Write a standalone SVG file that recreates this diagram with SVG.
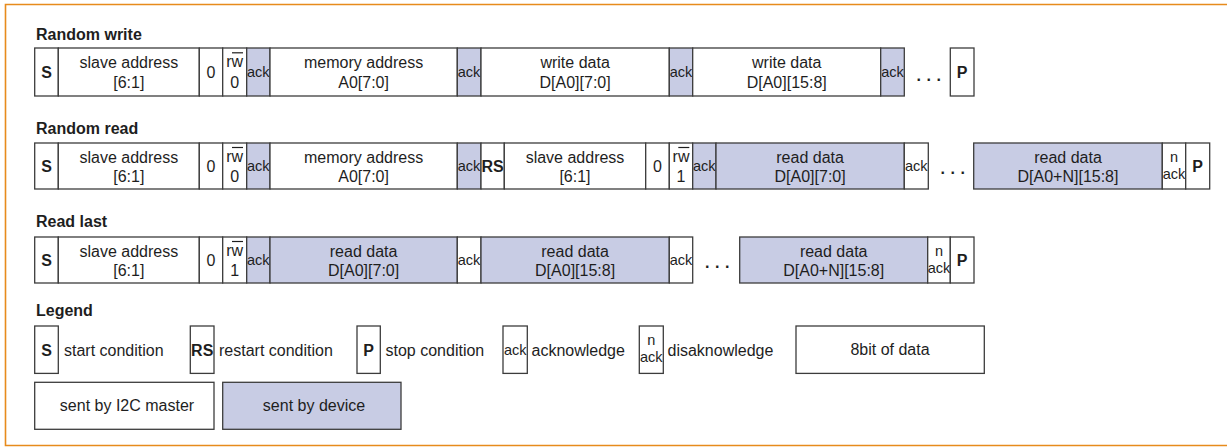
<svg xmlns="http://www.w3.org/2000/svg" width="1227" height="447" viewBox="0 0 1227 447">
  <style>
    .c { fill: #ffffff; stroke: #3c3c3c; stroke-width: 1.3; }
    .d { fill: #c8cce4; stroke: #3c3c3c; stroke-width: 1.3; }
    text { font-family: "Liberation Sans", Arial, sans-serif; fill: #1e1e1e; }
    .t { font-size: 16px; text-anchor: middle; }
    .b { font-size: 16px; font-weight: bold; text-anchor: middle; }
    .h { font-size: 16px; font-weight: bold; }
    .s { font-size: 14.5px; text-anchor: middle; }
    .l { font-size: 16px; }
    .dots { font-size: 16px; font-weight: bold; letter-spacing: 5.6px; }
    .ov { stroke: #1e1e1e; stroke-width: 1.2; }
  </style>
  <rect width="1227" height="447" fill="#ffffff"/>
  <!-- outer frame, open on the right -->
  <path d="M1227,4.5 H5.5 V445.5 H1227" fill="none" stroke="#e78b1c" stroke-width="1.6"/>

  <!-- Random write -->
  <g id="random-write">
    <text class="h" x="36" y="40">Random write</text>
    <g id="rw-s"><rect class="c" x="34.7" y="48" width="23.6" height="48"/><text class="b" x="46.5" y="78">S</text></g>
    <g id="rw-slave"><rect class="c" x="58.3" y="48" width="141" height="48"/><text class="t" x="128.8" y="68">slave address</text><text class="t" x="128.8" y="88">[6:1]</text></g>
    <g id="rw-zero"><rect class="c" x="199.3" y="48" width="23.4" height="48"/><text class="t" x="211" y="78">0</text></g>
    <g id="rw-rw"><rect class="c" x="222.7" y="48" width="24" height="48"/><text class="t" x="234.7" y="67">rw</text><line class="ov" x1="232" y1="52.8" x2="243" y2="52.8"/><text class="t" x="234.7" y="88">0</text></g>
    <g id="rw-ack1"><rect class="d" x="246.7" y="48" width="23.3" height="48"/><text class="s" x="258.3" y="77">ack</text></g>
    <g id="rw-mem"><rect class="c" x="270" y="48" width="187.3" height="48"/><text class="t" x="363.6" y="68">memory address</text><text class="t" x="363.6" y="88">A0[7:0]</text></g>
    <g id="rw-ack2"><rect class="d" x="457.3" y="48" width="23.7" height="48"/><text class="s" x="469.1" y="77">ack</text></g>
    <g id="rw-data1"><rect class="c" x="481" y="48" width="188.3" height="48"/><text class="t" x="575.1" y="68">write data</text><text class="t" x="575.1" y="88">D[A0][7:0]</text></g>
    <g id="rw-ack3"><rect class="d" x="669.3" y="48" width="23.4" height="48"/><text class="s" x="681" y="77">ack</text></g>
    <g id="rw-data2"><rect class="c" x="692.7" y="48" width="188" height="48"/><text class="t" x="786.7" y="68">write data</text><text class="t" x="786.7" y="88">D[A0][15:8]</text></g>
    <g id="rw-ack4"><rect class="d" x="880.7" y="48" width="23.6" height="48"/><text class="s" x="892.5" y="77">ack</text></g>
    <text class="dots" x="916.5" y="81">...</text>
    <g id="rw-p"><rect class="c" x="950.3" y="48" width="23.7" height="48"/><text class="b" x="962.2" y="78">P</text></g>
  </g>

  <!-- Random read -->
  <g id="random-read">
    <text class="h" x="36" y="134">Random read</text>
    <g id="rr-s"><rect class="c" x="34.7" y="143" width="23.6" height="46"/><text class="b" x="46.5" y="172">S</text></g>
    <g id="rr-slave"><rect class="c" x="58.3" y="143" width="141" height="46"/><text class="t" x="128.8" y="163">slave address</text><text class="t" x="128.8" y="182">[6:1]</text></g>
    <g id="rr-zero"><rect class="c" x="199.3" y="143" width="23.4" height="46"/><text class="t" x="211" y="172">0</text></g>
    <g id="rr-rw"><rect class="c" x="222.7" y="143" width="24" height="46"/><text class="t" x="234.7" y="162">rw</text><line class="ov" x1="232" y1="147.5" x2="243" y2="147.5"/><text class="t" x="234.7" y="182">0</text></g>
    <g id="rr-ack1"><rect class="d" x="246.7" y="143" width="23.3" height="46"/><text class="s" x="258.3" y="171">ack</text></g>
    <g id="rr-mem"><rect class="c" x="270" y="143" width="187.3" height="46"/><text class="t" x="363.6" y="163">memory address</text><text class="t" x="363.6" y="182">A0[7:0]</text></g>
    <g id="rr-ack2"><rect class="d" x="457.3" y="143" width="23.7" height="46"/><text class="s" x="469.1" y="171">ack</text></g>
    <g id="rr-rs"><rect class="c" x="481" y="143" width="23.3" height="46"/><text class="b" x="492.6" y="172">RS</text></g>
    <g id="rr-slave2"><rect class="c" x="504.3" y="143" width="141.4" height="46"/><text class="t" x="575" y="163">slave address</text><text class="t" x="575" y="182">[6:1]</text></g>
    <g id="rr-zero2"><rect class="c" x="645.7" y="143" width="23.6" height="46"/><text class="t" x="657.5" y="172">0</text></g>
    <g id="rr-rw2"><rect class="c" x="669.3" y="143" width="23.4" height="46"/><text class="t" x="681" y="162">rw</text><line class="ov" x1="678.3" y1="147.5" x2="689.3" y2="147.5"/><text class="t" x="681" y="182">1</text></g>
    <g id="rr-ack3"><rect class="d" x="692.7" y="143" width="23.3" height="46"/><text class="s" x="704.3" y="171">ack</text></g>
    <g id="rr-data1"><rect class="d" x="716" y="143" width="188.3" height="46"/><text class="t" x="810.1" y="163">read data</text><text class="t" x="810.1" y="182">D[A0][7:0]</text></g>
    <g id="rr-ack4"><rect class="c" x="904.3" y="143" width="24" height="46"/><text class="s" x="916.3" y="171">ack</text></g>
    <text class="dots" x="940.5" y="174">...</text>
    <g id="rr-data2"><rect class="d" x="973.7" y="143" width="188.6" height="46"/><text class="t" x="1068" y="163">read data</text><text class="t" x="1068" y="182">D[A0+N][15:8]</text></g>
    <g id="rr-nack"><rect class="c" x="1162.3" y="143" width="23.4" height="46"/><text class="s" x="1174" y="162">n</text><text class="s" x="1174" y="179">ack</text></g>
    <g id="rr-p"><rect class="c" x="1185.7" y="143" width="24" height="46"/><text class="b" x="1197.7" y="172">P</text></g>
  </g>

  <!-- Read last -->
  <g id="read-last">
    <text class="h" x="36" y="227">Read last</text>
    <g id="rl-s"><rect class="c" x="34.7" y="237" width="23.6" height="46"/><text class="b" x="46.5" y="266">S</text></g>
    <g id="rl-slave"><rect class="c" x="58.3" y="237" width="141" height="46"/><text class="t" x="128.8" y="257">slave address</text><text class="t" x="128.8" y="276">[6:1]</text></g>
    <g id="rl-zero"><rect class="c" x="199.3" y="237" width="23.4" height="46"/><text class="t" x="211" y="266">0</text></g>
    <g id="rl-rw"><rect class="c" x="222.7" y="237" width="24" height="46"/><text class="t" x="234.7" y="256">rw</text><line class="ov" x1="232" y1="241.5" x2="243" y2="241.5"/><text class="t" x="234.7" y="276">1</text></g>
    <g id="rl-ack1"><rect class="d" x="246.7" y="237" width="23.3" height="46"/><text class="s" x="258.3" y="265">ack</text></g>
    <g id="rl-data1"><rect class="d" x="270" y="237" width="187.3" height="46"/><text class="t" x="363.6" y="257">read data</text><text class="t" x="363.6" y="276">D[A0][7:0]</text></g>
    <g id="rl-ack2"><rect class="c" x="457.3" y="237" width="23.7" height="46"/><text class="s" x="469.1" y="265">ack</text></g>
    <g id="rl-data2"><rect class="d" x="481" y="237" width="188.3" height="46"/><text class="t" x="575.1" y="257">read data</text><text class="t" x="575.1" y="276">D[A0][15:8]</text></g>
    <g id="rl-ack3"><rect class="c" x="669.3" y="237" width="23.4" height="46"/><text class="s" x="681" y="265">ack</text></g>
    <text class="dots" x="705" y="268">...</text>
    <g id="rl-data3"><rect class="d" x="739.7" y="237" width="188" height="46"/><text class="t" x="833.7" y="257">read data</text><text class="t" x="833.7" y="276">D[A0+N][15:8]</text></g>
    <g id="rl-nack"><rect class="c" x="927.7" y="237" width="22.6" height="46"/><text class="s" x="939" y="256">n</text><text class="s" x="939" y="273">ack</text></g>
    <g id="rl-p"><rect class="c" x="950.3" y="237" width="23.7" height="46"/><text class="b" x="962.2" y="266">P</text></g>
  </g>

  <!-- Legend -->
  <g id="legend">
    <text class="h" x="36" y="316">Legend</text>
    <g id="lg-s"><rect class="c" x="34.7" y="326" width="23.6" height="47.4"/><text class="b" x="46.5" y="355.5">S</text><text class="l" x="64" y="356">start condition</text></g>
    <g id="lg-rs"><rect class="c" x="190.3" y="326" width="23.7" height="47.4"/><text class="b" x="202.2" y="355.5">RS</text><text class="l" x="219" y="356">restart condition</text></g>
    <g id="lg-p"><rect class="c" x="357" y="326" width="23.3" height="47.4"/><text class="b" x="368.7" y="355.5">P</text><text class="l" x="385.5" y="356">stop condition</text></g>
    <g id="lg-ack"><rect class="c" x="503" y="326" width="24.3" height="47.4"/><text class="s" x="515.2" y="354.5">ack</text><text class="l" x="531.5" y="356">acknowledge</text></g>
    <g id="lg-nack"><rect class="c" x="639.3" y="326" width="24" height="47.4"/><text class="s" x="651.3" y="345">n</text><text class="s" x="651.3" y="362">ack</text><text class="l" x="667.5" y="356">disaknowledge</text></g>
    <g id="lg-byte"><rect class="c" x="796" y="326" width="188.3" height="47.4"/><text class="t" x="890" y="355">8bit of data</text></g>
    <g id="lg-master"><rect class="c" x="34.7" y="382.3" width="179.3" height="47"/><text class="t" x="127" y="411">sent by I2C master</text></g>
    <g id="lg-device"><rect class="d" x="222.7" y="382.3" width="178.3" height="47"/><text class="t" x="314" y="411">sent by device</text></g>
  </g>
</svg>
